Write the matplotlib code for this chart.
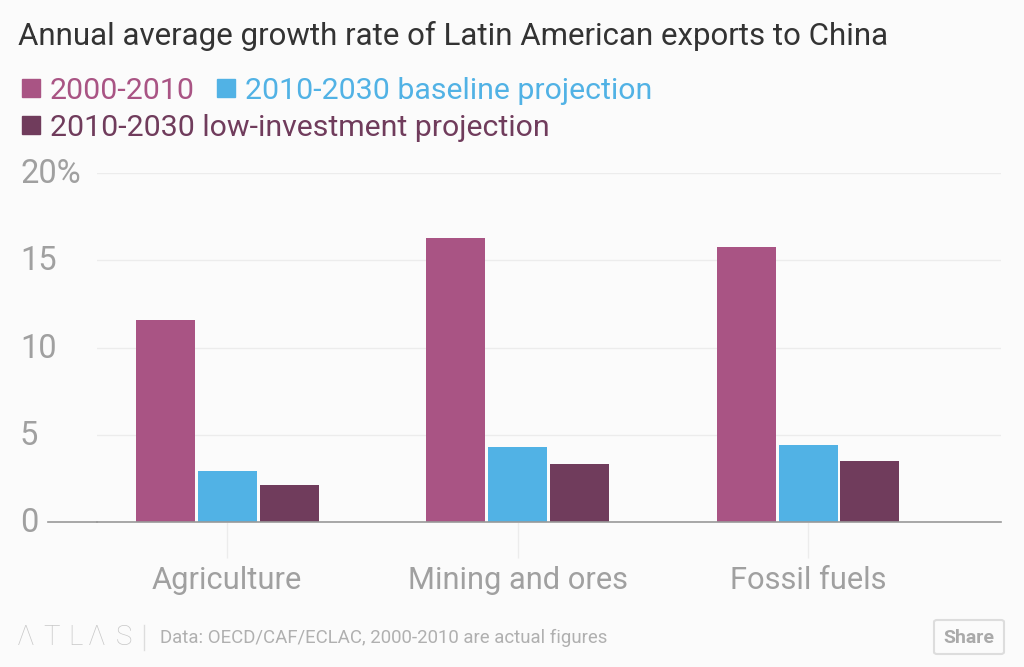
import matplotlib
matplotlib.use('Agg')
import matplotlib.pyplot as plt
import numpy as np
from matplotlib.patches import Rectangle, FancyBboxPatch

plt.rcParams['font.family'] = ['Roboto', 'DejaVu Sans']

categories = ['Agriculture', 'Mining and ores', 'Fossil fuels']
actual = [11.6, 16.25, 15.75]
baseline = [2.9, 4.3, 4.4]
low_inv = [2.1, 3.3, 3.5]
yticks = [0, 5, 10, 15, 20]
yticklabels = ['0', '5', '10', '15', '20%']

PINK = '#a95484'
BLUE = '#51b2e5'
PLUM = '#703c5c'
GREY = '#a0a0a0'
BG = '#fbfbfb'

W, H = 1024, 667
fig = plt.figure(figsize=(W / 100, H / 100), dpi=100, facecolor=BG)
# 图区: 基线 y=522, 20% 在 y=173
ax = fig.add_axes([97 / W, (H - 522) / H, (1001 - 97) / W, (522 - 173) / H], facecolor=BG)

x = np.arange(3)
w = 59 / 290.5
gap = 62 / 290.5
ax.bar(x - gap, actual, w, color=PINK)
ax.bar(x, baseline, w, color=BLUE)
ax.bar(x + gap, low_inv, w, color=PLUM)

ax.set_xlim(-(227 - 97) / 290.5, (1001 - 227) / 290.5)
ax.set_ylim(0, 20)
ax.set_yticks(yticks)
ax.set_yticklabels([])
ax.set_xticks(x)
ax.set_xticklabels(categories, fontsize=22.2, color=GREY)
ax.tick_params(axis='x', length=26, color='#ececec', pad=6, width=1)
ax.tick_params(axis='y', length=0)
ax.grid(axis='y', color='#ececec', linewidth=1)
ax.set_axisbelow(True)
for s in ['top', 'left', 'right']:
    ax.spines[s].set_visible(False)
ax.spines['bottom'].set_color('#999999')
ax.spines['bottom'].set_linewidth(1.2)
# 基线向左延伸
fig.add_artist(plt.Line2D([48 / W, 97 / W], [(H - 522) / H] * 2, color='#999999', lw=1.2))

for v, lab in zip(yticks, yticklabels):
    fig.text(20 / W, (H - (522 - v * 17.45) - 10) / H, lab, fontsize=23.5, color=GREY, ha='left', va='baseline')

fig.text(18 / W, (H - 45) / H, 'Annual average growth rate of Latin American exports to China',
         fontsize=22.5, color='#333333', ha='left', va='baseline')

# 图例
legend_items = [(22, 88, PINK, '2000-2010'), (217, 88, BLUE, '2010-2030 baseline projection'),
                (22, 125, PLUM, '2010-2030 low-investment projection')]
for lx, ly, col, lab in legend_items:
    fig.add_artist(Rectangle((lx / W, (H - ly - 9) / H), 18 / W, 18 / H, color=col, transform=fig.transFigure))
    fig.text((lx + 28) / W, (H - ly - 11) / H, lab, fontsize=21.8, color=col, ha='left', va='baseline')

# 页脚
for lx, ch in zip([17, 43, 68, 88, 116], 'ΛTLΛS'):
    fig.text(lx / W, (H - 645) / H, ch, fontsize=20, color='#c8c8c8', ha='left', va='baseline', fontweight='light')
fig.add_artist(plt.Line2D([144 / W, 144 / W], [(H - 650) / H, (H - 625) / H], color='#dddddd', lw=1))
fig.text(160 / W, (H - 643) / H, 'Data: OECD/CAF/ECLAC, 2000-2010 are actual figures',
         fontsize=13.4, color='#b0b0b0', ha='left', va='baseline')
fig.add_artist(FancyBboxPatch((934 / W, (H - 654) / H), 70 / W, 34 / H, transform=fig.transFigure,
                              boxstyle='round,pad=0,rounding_size=0.003', fc=BG, ec='#dddddd', lw=1.5))
fig.text(969 / W, (H - 643) / H, 'Share', fontsize=14, color='#aaaaaa', ha='center', va='baseline', fontweight='bold')

fig.savefig('out.png', dpi=100, facecolor=BG)
